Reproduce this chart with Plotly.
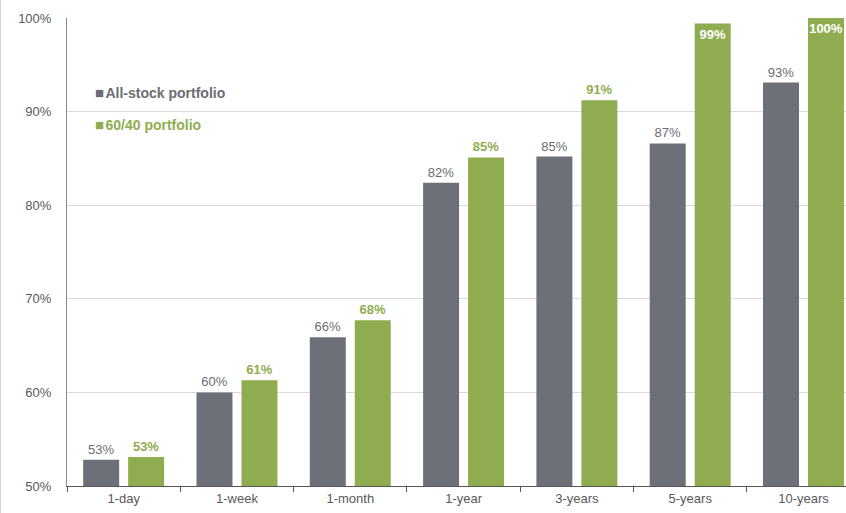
import plotly.graph_objects as go

categories = ["1-day", "1-week", "1-month", "1-year", "3-years", "5-years", "10-years"]
all_stock = [52.8, 60.0, 65.9, 82.4, 85.2, 86.6, 93.1]
sixty_forty = [53.1, 61.3, 67.7, 85.1, 91.2, 99.4, 100.0]
all_stock_labels = ["53%", "60%", "66%", "82%", "85%", "87%", "93%"]
sixty_forty_labels = ["53%", "61%", "68%", "85%", "91%", "99%", "100%"]
y_ticks = [50, 60, 70, 80, 90, 100]
y_tick_labels = ["50%", "60%", "70%", "80%", "90%", "100%"]
series_names = ["All-stock portfolio", "60/40 portfolio"]

GRAY = "#6e7079"
GREEN = "#8fad50"
FONT = "Liberation Sans, Arial, sans-serif"

green_pos = ["inside" if v >= 99 else "outside" for v in sixty_forty]
green_col = ["white" if v >= 99 else GREEN for v in sixty_forty]

fig = go.Figure()
fig.add_trace(go.Bar(
    x=categories, y=all_stock, name=series_names[0],
    marker=dict(color=GRAY, line=dict(width=0)),
    text=all_stock_labels, textposition="outside", textangle=0,
    textfont=dict(family=FONT, size=13, color="#6b6d74"),
    cliponaxis=False, constraintext="none",
))
fig.add_trace(go.Bar(
    x=categories, y=sixty_forty, name=series_names[1],
    marker=dict(color=GREEN, line=dict(width=0)),
    text=["<b>%s</b>" % t for t in sixty_forty_labels], textposition=green_pos,
    insidetextanchor="end", textangle=0,
    textfont=dict(family=FONT, size=13, color=green_col),
    cliponaxis=False, constraintext="none",
))

legend_annotations = [
    dict(xref="paper", yref="paper", x=(93 - 67) / 779, y=(486 - 92) / 468,
         xanchor="left", yanchor="middle", showarrow=False,
         text="<span style='font-size:15px'>■</span><span style='font-size:5px'> </span><b>%s</b>" % series_names[0],
         font=dict(family=FONT, size=14, color="#6b6d74")),
    dict(xref="paper", yref="paper", x=(93 - 67) / 779, y=(486 - 125) / 468,
         xanchor="left", yanchor="middle", showarrow=False,
         text="<span style='font-size:15px'>■</span><span style='font-size:5px'> </span><b>%s</b>" % series_names[1],
         font=dict(family=FONT, size=14, color=GREEN)),
]

fig.update_layout(
    width=846, height=513,
    margin=dict(l=67, r=0, t=18, b=27),
    paper_bgcolor="white", plot_bgcolor="white",
    barmode="group", bargap=0.206, bargroupgap=0.2,
    font=dict(family=FONT, size=13, color="#595959"),
    showlegend=False,
    annotations=legend_annotations,
    xaxis=dict(range=[-0.5, 6.375], showline=True, linecolor="#555555", linewidth=1,
               ticks="outside", ticklen=5, tickcolor="#555555", tickson="boundaries",
               showgrid=False, tickfont=dict(size=13, color="#595959")),
    yaxis=dict(range=[50, 100], tickvals=y_ticks, ticktext=y_tick_labels,
               showline=True, linecolor="#8c8c8c", linewidth=1,
               showgrid=True, gridcolor="#d9d9d9", gridwidth=1,
               ticks="", ticklabelstandoff=12,
               tickfont=dict(size=13, color="#595959"), zeroline=False),
    shapes=[dict(type="line", xref="paper", yref="paper", x0=-0.0855, x1=-0.0855,
                 y0=-0.06, y1=1.04, line=dict(color="#d0d0d0", width=1))],
)

fig.write_html("out.html")
